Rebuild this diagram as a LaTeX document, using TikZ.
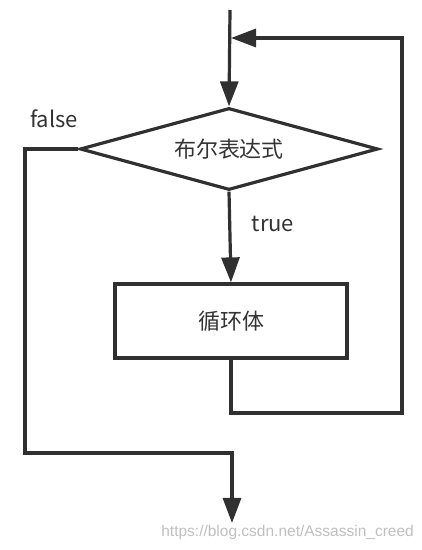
\documentclass[tikz,border=0pt]{standalone}
\usepackage{fontspec}
\setmainfont{Noto Sans CJK SC}
\newfontfamily\wmfont{Liberation Sans}
\usepackage{xcolor}
\usepackage{tikz}
\usetikzlibrary{arrows.meta,shapes.geometric}

\definecolor{linecol}{HTML}{303030}
\definecolor{textcol}{HTML}{333333}

\tikzset{
    flow/.style={draw=linecol, line width=3.2pt, -{Triangle[length=25pt,width=18pt]}},
    condbox/.style={diamond, aspect=3.63, draw=linecol, line width=3.2pt, inner sep=0pt,
        minimum width=298pt, minimum height=82pt, text=textcol},
    bodybox/.style={rectangle, draw=linecol, line width=3.2pt, inner sep=0pt,
        minimum width=232pt, minimum height=74pt, text=textcol},
    lbl/.style={text=textcol, inner sep=0pt}
}

\begin{document}
\begin{tikzpicture}[x=1pt, y=1pt, font=\fontsize{22}{26}\selectfont]

    \useasboundingbox (0,0) rectangle (422,550);

    % nodes
    \node[condbox] (cond) at (229,401) {布尔表达式};
    \node[bodybox] (body) at (231,229) {循环体};

    \coordinate (top) at (230,540);
    \coordinate (join) at (231,512);
    \coordinate (back) at (402,137);
    \coordinate (lcorner) at (25,401);
    \coordinate (exit) at (232,97);
    \coordinate (out) at (232,27);

    % labels
    \node[lbl] (false) at (54,431) {false};
    \node[lbl] (true) at (273,326) {true};

    % connectors
    \draw[flow] (top) -- (cond.north);
    \draw[flow] (cond.south) -- (body.north);
    \draw[flow] (body.south) |- (back) |- (join);
    \draw[flow] (cond.west) -- (lcorner) |- (exit) -- (out);

    % watermark
    \node[anchor=east, text=black!25, inner sep=0pt, font=\wmfont\fontsize{15.5}{18}\selectfont]
        (mark) at (414,18) {https://blog.csdn.net/Assassin\_creed};

\end{tikzpicture}
\end{document}
